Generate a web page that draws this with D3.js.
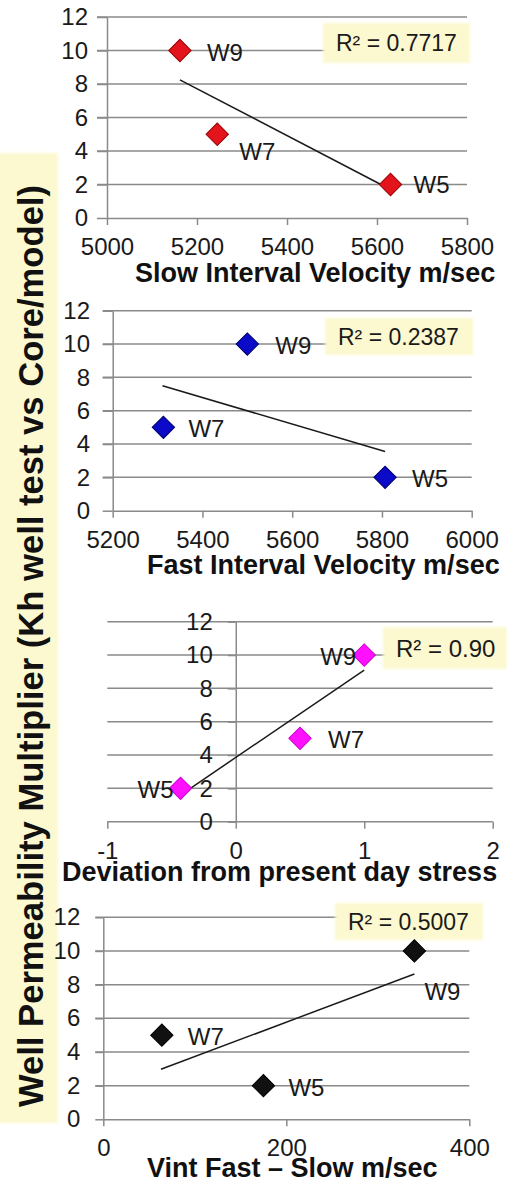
<!DOCTYPE html>
<html>
<head>
<meta charset="utf-8">
<script src="https://cdn.jsdelivr.net/npm/d3@7"></script>
<style>
  html, body { margin: 0; padding: 0; background: #fff; }
  svg { display: block; font-family: "Liberation Sans", Arial, sans-serif; }
</style>
</head>
<body>
<svg id="chart" width="507" height="1192"></svg>
<script>
// values
const wells = ["W9", "W7", "W5"];
const multiplier = [10, 5, 2];
const slowVelocity = [5162, 5245, 5630];
const fastVelocity = [5500, 5313, 5807];
const stressDeviation = [1.0, 0.5, -0.43];
const vintFastSlow = [340, 64, 175];

// trendline end points (x, y) as drawn
const slowTrend = [[5162, 8.25], [5630, 1.7]];
const fastTrend = [[5311, 7.5], [5807, 3.55]];
const stressTrend = [[-0.43, 1.6], [1.0, 9.1]];
const vintTrend = [[63, 2.97], [340, 8.63]];

const yTicks = [0, 2, 4, 6, 8, 10, 12];
const slowTicks = [5000, 5200, 5400, 5600, 5800];
const fastTicks = [5200, 5400, 5600, 5800, 6000];
const stressTicks = [-1, 0, 1, 2];
const vintTicks = [0, 200, 400];

const rSquared = ["R² = 0.7717", "R² = 0.2387", "R² = 0.90", "R² = 0.5007"];
const xTitles = [
  "Slow Interval Velocity m/sec",
  "Fast Interval Velocity m/sec",
  "Deviation from present day stress",
  "Vint Fast \u2013 Slow m/sec"
];
const yTitle = "Well Permeability Multiplier (Kh well test vs Core/model)";

// layout of the four stacked panels
const panels = [
  { xs: slowVelocity, trend: slowTrend, ticks: slowTicks, fill: "#e3141c", edge: "#9a0000",
    left: 107, right: 467, top: 17, bottom: 218, yAxisAt: 5000, yTickSize: 10, yPad: 9,
    titleX: 135, titleY: 282, box: [323, 23, 147, 40], r2Size: 23,
    labels: [[27, 2, "start"], [22, 17, "start"], [23, 0, "start"]] },
  { xs: fastVelocity, trend: fastTrend, ticks: fastTicks, fill: "#0a0ac8", edge: "#00006a",
    left: 112.7, right: 471.7, top: 310.7, bottom: 510.7, yAxisAt: 5200, yTickSize: 10, yPad: 12.7,
    titleX: 147, titleY: 574, box: [325, 318, 148, 37], r2Size: 23,
    labels: [[28, 1, "start"], [25, 1, "start"], [27, 1, "start"]] },
  { xs: stressDeviation, trend: stressTrend, ticks: stressTicks, fill: "#ff10ff", edge: "#d000d0",
    left: 107.3, right: 492.7, top: 621.7, bottom: 821.7, yAxisAt: 0, yTickSize: 8, yPad: 15,
    titleX: 62, titleY: 881, box: [383, 627, 124, 42], r2Size: 24,
    labels: [[-8, 1, "end"], [28, 1, "start"], [-7, 1, "end"]] },
  { xs: vintFastSlow, trend: vintTrend, ticks: vintTicks, fill: "#111", edge: "#000",
    left: 103.3, right: 469.3, top: 917.3, bottom: 1119.3, yAxisAt: 0, yTickSize: 8, yPad: 15,
    titleX: 147, titleY: 1177, box: [335, 903, 148, 37], r2Size: 23,
    labels: [[10, 41, "start"], [26, 1, "start"], [25, 2, "start"]] }
];

const svg = d3.select("#chart");
const gridColor = "#8a8a8a";
const paleYellow = "#fcf8cf";

const defs = svg.append("defs");
defs.append("filter").attr("id", "soft")
  .attr("x", "-10%").attr("y", "-10%").attr("width", "120%").attr("height", "120%")
  .append("feGaussianBlur").attr("stdDeviation", 1.5);

// big shared y title on its pale strip
svg.append("rect")
  .attr("x", -4).attr("y", 153).attr("width", 62).attr("height", 970)
  .attr("fill", paleYellow).attr("filter", "url(#soft)");

svg.append("text")
  .attr("transform", "translate(43,646) rotate(-90)")
  .attr("text-anchor", "middle")
  .attr("font-weight", "bold")
  .attr("font-size", 35)
  .attr("fill", "#111")
  .attr("textLength", 922)
  .attr("lengthAdjust", "spacingAndGlyphs")
  .text(yTitle);

panels.forEach((p, i) => {
  const x = d3.scaleLinear().domain([p.ticks[0], p.ticks[p.ticks.length - 1]]).range([p.left, p.right]);
  const y = d3.scaleLinear().domain([0, 12]).range([p.bottom, p.top]);
  const g = svg.append("g");
  const gridLeft = x(p.yAxisAt) === p.left ? p.left - p.yTickSize : p.left;

  // horizontal gridlines
  g.append("g").selectAll("line")
    .data(yTicks.filter(d => d > 0))
    .join("line")
    .attr("x1", gridLeft).attr("x2", p.right)
    .attr("y1", d => y(d)).attr("y2", d => y(d))
    .attr("stroke", gridColor).attr("stroke-width", 1.5);

  // x axis
  const xAxis = g.append("g")
    .attr("transform", `translate(0,${p.bottom})`)
    .call(d3.axisBottom(x).tickValues(p.ticks).tickFormat(d => String(d))
      .tickSize(7).tickSizeOuter(0).tickPadding(13));

  // y axis
  const yAxis = g.append("g")
    .attr("transform", `translate(${x(p.yAxisAt)},0)`)
    .call(d3.axisLeft(y).tickValues(yTicks).tickSize(p.yTickSize).tickSizeOuter(0).tickPadding(p.yPad));

  [xAxis, yAxis].forEach(a => {
    a.select(".domain").attr("stroke", gridColor).attr("stroke-width", 1.5);
    a.selectAll(".tick line").attr("stroke", gridColor).attr("stroke-width", 1.5);
    a.selectAll(".tick text")
      .attr("font-family", "'Liberation Sans', Arial, sans-serif")
      .attr("font-size", 24).attr("fill", "#1a1a1a");
  });
  if (x(p.yAxisAt) !== p.left) {
    xAxis.select(".domain").attr("d", `M${gridLeft},0H${p.right}`);
  }

  // R² box
  g.append("rect")
    .attr("x", p.box[0]).attr("y", p.box[1]).attr("width", p.box[2]).attr("height", p.box[3])
    .attr("fill", paleYellow).attr("filter", "url(#soft)");
  g.append("text")
    .attr("x", p.box[0] + 13).attr("y", p.box[1] + p.box[3] / 2)
    .attr("dominant-baseline", "central")
    .attr("font-size", p.r2Size).attr("fill", "#1a1a1a")
    .text(rSquared[i]);

  // trendline
  g.append("path")
    .datum(p.trend)
    .attr("d", d3.line().x(d => x(d[0])).y(d => y(d[1])))
    .attr("fill", "none").attr("stroke", "#1a1a1a").attr("stroke-width", 1.5);

  // markers
  const pts = wells.map((w, k) => ({ well: w, xv: p.xs[k], yv: multiplier[k], lab: p.labels[k] }));
  g.append("g").selectAll("path")
    .data(pts)
    .join("path")
    .attr("d", d3.symbol(d3.symbolSquare, 250))
    .attr("transform", d => `translate(${x(d.xv)},${y(d.yv)}) rotate(45)`)
    .attr("fill", p.fill).attr("stroke", p.edge).attr("stroke-width", 1);

  // well labels
  g.append("g").selectAll("text")
    .data(pts)
    .join("text")
    .attr("x", d => x(d.xv) + d.lab[0])
    .attr("y", d => y(d.yv) + d.lab[1])
    .attr("text-anchor", d => d.lab[2])
    .attr("dominant-baseline", "central")
    .attr("font-size", 24).attr("fill", "#1a1a1a")
    .text(d => d.well);

  // axis title
  g.append("text")
    .attr("x", p.titleX).attr("y", p.titleY)
    .attr("font-weight", "bold").attr("font-size", 27).attr("fill", "#111")
    .text(xTitles[i]);
});
</script>
</body>
</html>
